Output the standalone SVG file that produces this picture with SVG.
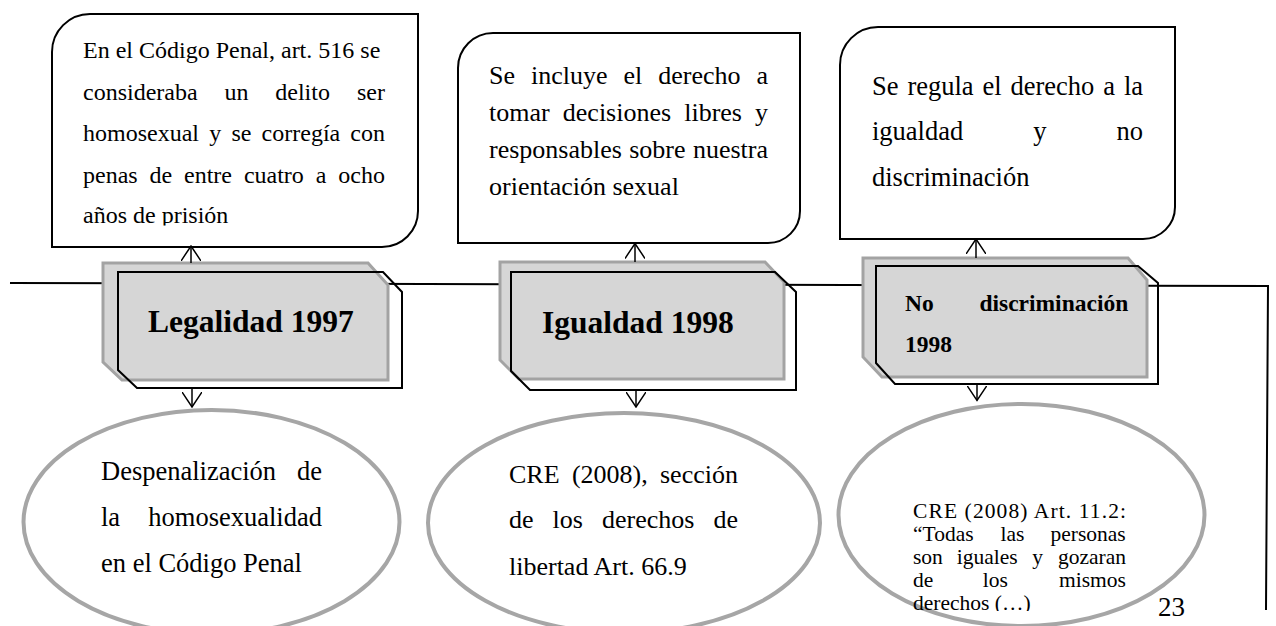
<svg xmlns="http://www.w3.org/2000/svg" width="1276" height="626" viewBox="0 0 1276 626">
<style>
.call{fill:#fff;stroke:#000;stroke-width:2}
.gbox{fill:#d6d6d6;stroke:#a3a3a3;stroke-width:3}
.bbox{fill:none;stroke:#000;stroke-width:2}
.ell{fill:#fff;stroke:#a6a6a6;stroke-width:4}
.ln{fill:none;stroke:#000;stroke-width:2}
.arr{fill:none;stroke:#000;stroke-width:1.5;marker-end:url(#v)}
.t{font-family:"Liberation Serif","Times New Roman",serif;fill:#000}
.b{font-family:"Liberation Serif","Times New Roman",serif;font-weight:bold;fill:#000}
</style>
<defs>
<marker id="v" viewBox="0 0 16 20" refX="15" refY="10" markerWidth="16" markerHeight="20" markerUnits="userSpaceOnUse" orient="auto">
<path d="M0,0 L15,10 L0,20" fill="none" stroke="#000" stroke-width="1.5"/>
</marker>
<clipPath id="c1"><rect x="52" y="14" width="366" height="211.5"/></clipPath>
<clipPath id="c3"><rect x="838" y="403" width="367" height="208"/></clipPath>
</defs>
<rect width="1276" height="626" fill="#fff"/>

<g id="connectors">
<polyline class="ln" points="10,283 1268,286 1266,610"/>
</g>

<g id="callout1">
<path class="call" d="M52,247 L52,52 A38,38 0 0 1 90,14 L418,14 L418,211 A36,36 0 0 1 382,247 Z"/>
<g clip-path="url(#c1)">
<text class="t" font-size="24">
<tspan x="83" y="58">En el Código Penal, art. 516 se</tspan>
<tspan x="83" y="100">consideraba</tspan><tspan x="224.4" y="100">un</tspan><tspan x="275.3" y="100">delito</tspan><tspan x="357" y="100">ser</tspan>
<tspan x="83" y="141">homosexual</tspan><tspan x="209.2" y="141">y</tspan><tspan x="231.4" y="141">se</tspan><tspan x="261.6" y="141">corregía</tspan><tspan x="350.3" y="141">con</tspan>
<tspan x="83" y="183">penas</tspan><tspan x="149.5" y="183">de</tspan><tspan x="184" y="183">entre</tspan><tspan x="243.9" y="183">cuatro</tspan><tspan x="315.7" y="183">a</tspan><tspan x="338.3" y="183">ocho</tspan>
<tspan x="83" y="223">años de prisión</tspan>
</text>
</g>
</g>

<g id="callout2">
<path class="call" d="M458,243 L458,68 A35,35 0 0 1 493,33 L800,33 L800,211 A32,32 0 0 1 768,243 Z"/>
<text class="t" font-size="26">
<tspan x="489" y="84">Se</tspan><tspan x="531" y="84">incluye</tspan><tspan x="623.5" y="84">el</tspan><tspan x="658.3" y="84">derecho</tspan><tspan x="756.5" y="84">a</tspan>
<tspan x="489" y="121">tomar</tspan><tspan x="562.8" y="121">decisiones</tspan><tspan x="684.2" y="121">libres</tspan><tspan x="755" y="121">y</tspan>
<tspan x="489" y="158">responsables</tspan><tspan x="629.2" y="158">sobre</tspan><tspan x="692.9" y="158">nuestra</tspan>
<tspan x="489" y="195">orientación sexual</tspan>
</text>
</g>

<g id="callout3">
<path class="call" d="M840,239 L840,65 A38,38 0 0 1 878,27 L1175,27 L1175,207 A32,32 0 0 1 1143,239 Z"/>
<text class="t" font-size="26.5">
<tspan x="872" y="95">Se</tspan><tspan x="907.4" y="95">regula</tspan><tspan x="982.5" y="95">el</tspan><tspan x="1010.5" y="95">derecho</tspan><tspan x="1103.3" y="95">a</tspan><tspan x="1123.9" y="95">la</tspan>
<tspan x="872" y="140">igualdad</tspan><tspan x="1033.3" y="140">y</tspan><tspan x="1116.5" y="140">no</tspan>
<tspan x="872" y="186">discriminación</tspan>
</text>
</g>

<g id="time1">
<path class="gbox" d="M103,263 L368,263 L388,285 L388,380 L122,380 L103,362 Z"/>
<path class="bbox" d="M118,272 L383,272 L402,292 L402,388 L137,388 L118,370 Z"/>
<text class="b" font-size="31.5" x="148" y="332">Legalidad 1997</text>
</g>

<g id="time2">
<path class="gbox" d="M500,262 L765,262 L784,282 L784,379 L519,379 L500,360 Z"/>
<path class="bbox" d="M511,272 L775,272 L796,292 L796,390 L530,390 L511,371 Z"/>
<text class="b" font-size="31.5" x="542" y="333">Igualdad 1998</text>
</g>

<g id="time3">
<path class="gbox" d="M863,258 L1128,258 L1147,280 L1147,377 L882,377 L863,357 Z"/>
<path class="bbox" d="M876,266 L1138,266 L1158,283 L1158,384 L895,384 L876,363 Z"/>
<text class="b" font-size="23.5"><tspan x="905" y="311">No</tspan><tspan x="979.4" y="311">discriminación</tspan><tspan x="905" y="352">1998</tspan></text>
</g>

<g id="arrows">
<line class="arr" x1="191" y1="263" x2="191" y2="246"/>
<line class="arr" x1="635" y1="262" x2="635" y2="243.5"/>
<line class="arr" x1="976" y1="258" x2="976" y2="239"/>
<line class="arr" x1="192" y1="388" x2="192" y2="407"/>
<line class="arr" x1="636" y1="390" x2="636" y2="407"/>
<line class="arr" x1="977" y1="384" x2="977" y2="400.5"/>
</g>

<g id="ellipse1">
<ellipse class="ell" cx="211.5" cy="522" rx="188" ry="112"/>
<text class="t" font-size="26.5">
<tspan x="101" y="480">Despenalización</tspan><tspan x="297" y="480">de</tspan>
<tspan x="101" y="526">la</tspan><tspan x="148.3" y="526">homosexualidad</tspan>
<tspan x="101" y="572">en el Código Penal</tspan>
</text>
</g>

<g id="ellipse2">
<ellipse class="ell" cx="624" cy="523" rx="196" ry="110"/>
<text class="t" font-size="26">
<tspan x="509" y="483">CRE</tspan><tspan x="571.9" y="483">(2008),</tspan><tspan x="660" y="483">sección</tspan>
<tspan x="509" y="528">de</tspan><tspan x="552.6" y="528">los</tspan><tspan x="602" y="528">derechos</tspan><tspan x="713.5" y="528">de</tspan>
<tspan x="509" y="575">libertad Art. 66.9</tspan>
</text>
</g>

<g id="ellipse3">
<ellipse class="ell" cx="1021.5" cy="515" rx="183" ry="111"/>
<g clip-path="url(#c3)">
<text class="t" font-size="21.5">
<tspan x="913" y="518" textLength="213" lengthAdjust="spacing">CRE (2008) Art. 11.2:</tspan>
<tspan x="913" y="541">“Todas</tspan><tspan x="1000.6" y="541">las</tspan><tspan x="1050.5" y="541">personas</tspan>
<tspan x="913" y="564">son</tspan><tspan x="956.8" y="564">iguales</tspan><tspan x="1032.3" y="564">y</tspan><tspan x="1058" y="564">gozaran</tspan>
<tspan x="913" y="587">de</tspan><tspan x="982.8" y="587">los</tspan><tspan x="1059" y="587">mismos</tspan>
<tspan x="913" y="610">derechos (…)</tspan>
</text>
</g>
</g>

<text class="t" font-size="27" x="1158" y="616">23</text>
</svg>
